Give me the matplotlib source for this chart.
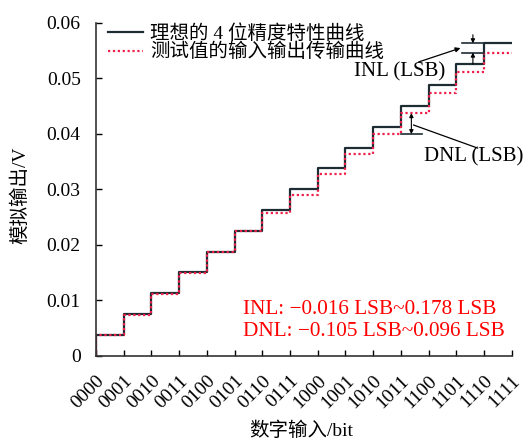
import matplotlib
matplotlib.use('Agg')
import matplotlib.pyplot as plt
import numpy as np

plt.rcParams['font.family'] = ['Liberation Serif', 'Noto Sans CJK SC']
plt.rcParams['axes.unicode_minus'] = False

# 数据
codes = ['0000', '0001', '0010', '0011', '0100', '0101', '0110', '0111',
         '1000', '1001', '1010', '1011', '1100', '1101', '1110', '1111']
ideal = [0.00375, 0.0075, 0.01125, 0.015, 0.01875, 0.0225, 0.02625, 0.03,
         0.03375, 0.0375, 0.04125, 0.045, 0.04875, 0.0525, 0.05625]
measured = [0.00375, 0.0073, 0.0112, 0.0149, 0.01875, 0.0225, 0.0258, 0.0290,
            0.0327, 0.0363, 0.0399, 0.0437, 0.0473, 0.0511, 0.0546]
yticks = [0, 0.01, 0.02, 0.03, 0.04, 0.05, 0.06]
ytick_labels = ['0', '0.01', '0.02', '0.03', '0.04', '0.05', '0.06']

x = np.arange(len(codes))
xs = np.concatenate([[0], x])
ys_ideal = np.concatenate([[0], ideal, [ideal[-1]]])
ys_meas = np.concatenate([[0], measured, [measured[-1]]])

fig = plt.figure(figsize=(5.27, 4.42), dpi=100)
ax = fig.add_axes([0.182, 0.195, 0.789, 0.754])

ax.step(xs, ys_ideal, where='post', color='#1e2c34', lw=1.6,
        label='理想的 4 位精度特性曲线')
ax.step(xs, ys_meas, where='post', color='#f0204a', lw=1.6, ls=(0, (1, 1.2)),
        label='测试值的输入输出传输曲线')

ax.set_xlim(0, 15)
ax.set_ylim(0, 0.06)
ax.set_xticks(x)
ax.set_xticklabels(codes, rotation=45, ha='right', va='top',
                   rotation_mode='anchor', fontsize=14)
ax.set_yticks(yticks)
ax.set_yticklabels(ytick_labels, fontsize=14)
ax.tick_params(direction='in', length=4, width=1)
ax.tick_params(axis='x', pad=12)
ax.tick_params(axis='y', pad=11)
for s in ['top', 'right']:
    ax.spines[s].set_visible(False)
for s in ['left', 'bottom']:
    ax.spines[s].set_linewidth(1.2)
    ax.spines[s].set_color('#333333')

ax.set_xlabel('数字输入/bit', fontsize=14, va='center', ha='center')
ax.xaxis.set_label_coords(0.493, -0.225)
ax.set_ylabel('模拟输出/V', fontsize=14, va='center', ha='center')
ax.yaxis.set_label_coords(-0.183, 0.483)

ax.legend(loc='upper left', bbox_to_anchor=(0.0, 1.03), frameon=False,
          fontsize=14, handlelength=1.8, handletextpad=0.4,
          labelspacing=0.0, borderaxespad=0.2)

# INL 标注
ax.plot([13.2, 14], [ideal[14], ideal[14]], color='#1e2c34', lw=1.2)
ax.plot([13.2, 14], [measured[14], measured[14]], color='#1e2c34', lw=1.2)
ax.annotate('', xy=(13.6, ideal[14]), xytext=(13.6, 0.0578),
            arrowprops=dict(arrowstyle='-|>', color='k', lw=0.8,
                            mutation_scale=6, shrinkA=0, shrinkB=0))
ax.annotate('', xy=(13.6, measured[14]), xytext=(13.6, ideal[13]),
            arrowprops=dict(arrowstyle='-|>', color='k', lw=0.8,
                            mutation_scale=6, shrinkA=0, shrinkB=0))
ax.annotate('', xy=(13.15, 0.0554), xytext=(11.64, 0.0529),
            arrowprops=dict(arrowstyle='-|>', color='k', lw=0.9,
                            mutation_scale=7, shrinkA=0, shrinkB=0))
ax.text(10.97, 0.0511, 'INL (LSB)', fontsize=15, ha='center', va='center')

# DNL 标注
ax.plot([10.99, 11.77], [measured[10], measured[10]], color='#1e2c34', lw=1.2)
ax.annotate('', xy=(11.38, measured[11]), xytext=(11.38, measured[10]),
            arrowprops=dict(arrowstyle='<|-|>', color='k', lw=0.8,
                            mutation_scale=6, shrinkA=0, shrinkB=0))
ax.plot([11.46, 13.77], [0.04155, 0.0374], color='k', lw=0.9)
ax.text(13.64, 0.0358, 'DNL (LSB)', fontsize=15, ha='center', va='center')

ax.text(5.31, 0.00827, 'INL: −0.016 LSB~0.178 LSB', color='red',
        fontsize=15.3, ha='left', va='center')
ax.text(5.31, 0.00432, 'DNL: −0.105 LSB~0.096 LSB', color='red',
        fontsize=15.3, ha='left', va='center')

fig.savefig('out.png', dpi=100)
